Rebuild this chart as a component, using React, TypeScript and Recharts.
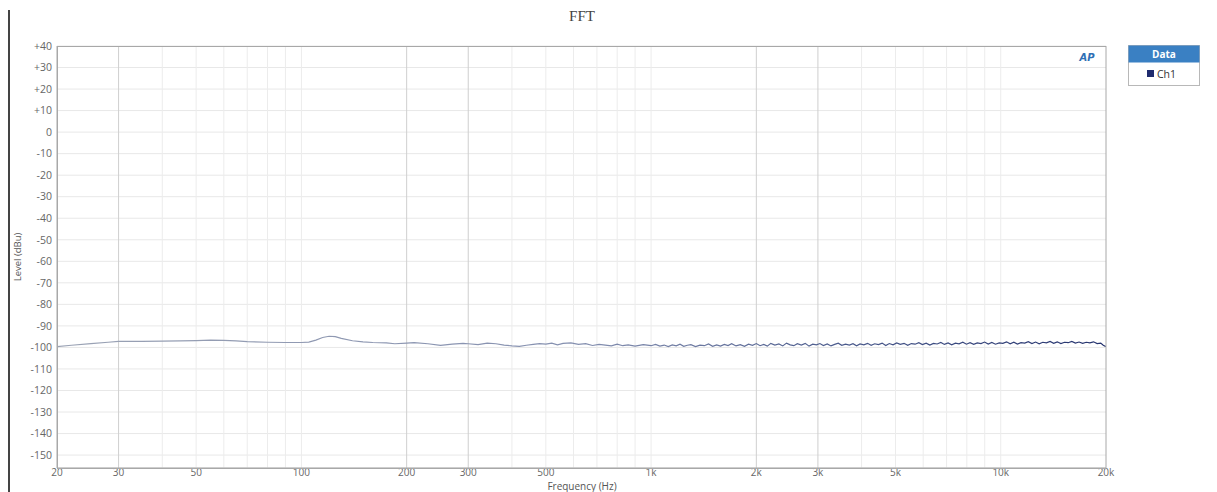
import React from "react";
import {
  LineChart,
  Line,
  XAxis,
  YAxis,
  CartesianGrid,
  ReferenceLine,
} from "recharts";

// frequency (Hz) and level (dBu) of the Ch1 FFT trace
const lowFreqs = [
  20, 22, 25, 28, 30, 35, 40, 45, 50, 55, 60, 65, 70, 80, 90, 100, 105, 110,
  115, 120, 125, 130, 140, 150, 160, 175, 185, 200, 210, 230, 250, 270, 290,
  300, 320, 340, 360, 380, 400, 420, 440, 460, 480, 500, 520, 540, 560, 590,
  620, 650, 680, 710, 740, 770, 800, 830, 860, 900, 950, 1000,
];
const lowLevels = [
  -99.6, -99.0, -98.2, -97.6, -97.2, -97.2, -97.1, -97.0, -96.8, -96.6, -96.7,
  -97.0, -97.3, -97.6, -97.7, -97.7, -97.5, -96.6, -95.4, -94.8, -95.0, -95.8,
  -96.9, -97.4, -97.7, -97.9, -98.3, -98.0, -97.8, -98.3, -99.0, -98.5, -98.1,
  -98.3, -98.7, -98.0, -98.3, -98.9, -99.3, -99.5, -99.0, -98.6, -98.2, -98.5,
  -98.0, -98.8, -98.1, -97.9, -98.6, -98.2, -99.1, -98.6, -98.9, -99.3, -98.5,
  -99.2, -98.8, -99.4, -98.7, -99.2,
];

const highFreqs = [
  1030, 1060, 1090, 1120, 1150, 1180, 1210, 1240, 1270, 1300, 1340, 1380, 1420,
  1460, 1500, 1540, 1580, 1620, 1660, 1700, 1750, 1800, 1850, 1900, 1950, 2000,
  2050, 2100, 2150, 2200, 2260, 2320, 2380, 2440, 2500, 2560, 2620, 2690, 2760,
  2830, 2900, 2970, 3040, 3110, 3190, 3270, 3350, 3430, 3510, 3600, 3690, 3780,
  3870, 3960, 4060, 4160, 4260, 4360, 4470, 4580, 4690, 4800, 4920, 5040, 5160,
  5290, 5420, 5550, 5690, 5830, 5970, 6120, 6270, 6420, 6580, 6740, 6900, 7070,
  7240, 7420, 7600, 7790, 7980, 8170, 8370, 8570, 8780, 8990, 9210, 9430, 9660,
  9900, 10140, 10390, 10640, 10900, 11160, 11430, 11710, 11990, 12280, 12580,
  12880, 13190, 13510, 13840, 14170, 14510, 14860, 15220, 15590, 15970, 16350,
  16750, 17150, 17560, 17990, 18420, 18870, 19320, 19600, 19800, 20000,
];
const highLevels = [
  -98.6, -99.4, -98.9, -99.6, -98.8, -99.3, -98.5, -99.5, -99.0, -98.7, -99.6,
  -98.9, -99.2, -98.4, -99.5, -98.8, -99.4, -98.6, -99.1, -98.3, -99.3, -98.7,
  -99.5, -98.5, -99.0, -98.2, -99.2, -98.6, -99.4, -98.1, -98.9, -98.4, -99.3,
  -98.0, -98.8, -99.2, -98.3, -98.9, -98.1, -99.4, -98.5, -98.8, -98.2, -99.1,
  -98.4, -99.3, -98.6, -98.0, -99.0, -98.5, -98.9, -98.3, -99.2, -98.4, -98.8,
  -98.1, -99.0, -98.3, -98.7, -98.0, -99.1, -98.2, -98.8, -97.9, -98.6, -98.1,
  -99.0, -98.2, -98.5, -97.8, -98.7, -98.0, -98.9, -98.1, -98.4, -97.7, -98.6,
  -97.9, -98.8, -98.0, -98.3, -97.6, -98.5, -97.8, -98.6, -97.9, -98.2, -97.5,
  -98.4, -97.7, -98.5, -97.9, -98.1, -97.4, -98.3, -97.6, -98.4, -97.8, -98.0,
  -97.3, -98.2, -97.5, -98.3, -97.6, -97.9, -97.2, -98.1, -97.4, -98.2, -97.6,
  -97.8, -97.2, -98.0, -97.5, -98.1, -97.6, -97.9, -97.4, -98.2, -98.0, -98.9,
  -99.3, -99.6,
];

const xTicks = [20, 30, 50, 100, 200, 300, 500, 1000, 2000, 3000, 5000, 10000, 20000];
const yTicks = [40, 30, 20, 10, 0, -10, -20, -30, -40, -50, -60, -70, -80, -90, -100, -110, -120, -130, -140, -150];

// vertical grid: light minor lines and a few darker ones
const minorGrid = [
  40, 50, 60, 70, 80, 90, 100, 400, 500, 600, 700, 800, 900, 1000, 4000, 5000,
  6000, 7000, 8000, 9000, 10000,
];
const majorGrid = [30, 200, 300, 2000, 3000];

const data = [
  ...lowFreqs.map((f, i) => ({ freq: f, ch1: lowLevels[i] })),
  ...highFreqs.map((f, i) => ({ freq: f, ch1: highLevels[i] })),
];

const fmtX = (v: number) => (v >= 1000 ? `${v / 1000}k` : `${v}`);
const fmtY = (v: number) => (v > 0 ? `+${v}` : `${v}`);

const tickStyle = { fontSize: 10.5, fill: "#666", fontFamily: "'Open Sans', sans-serif" };
const xTickStyle = { fontSize: 10, fill: "#666", fontFamily: "'Open Sans', sans-serif" };

const App = () => {
  return (
    <div style={{ position: "absolute", left: 0, top: 0, width: 1217, height: 492, background: "#fff", overflow: "hidden" }}>
      <LineChart
        width={1217}
        height={492}
        data={data}
        margin={{ top: 46, right: 111, left: 15, bottom: 0 }}
      >
        <defs>
          <linearGradient id="traceGrad" x1="0" y1="0" x2="1" y2="0">
            <stop offset="0%" stopColor="#9aa2b4" />
            <stop offset="50%" stopColor="#8590b0" />
            <stop offset="75%" stopColor="#4a5a8c" />
            <stop offset="100%" stopColor="#25336e" />
          </linearGradient>
        </defs>
        <CartesianGrid vertical={false} stroke="#e8e8e8" strokeWidth={1} />
        {minorGrid.map((f) => (
          <ReferenceLine key={`mi-${f}`} x={f} stroke="#ececec" strokeWidth={1} />
        ))}
        {majorGrid.map((f) => (
          <ReferenceLine key={`ma-${f}`} x={f} stroke="#cfcfcf" strokeWidth={1} />
        ))}
        <XAxis
          dataKey="freq"
          type="number"
          scale="log"
          domain={[20, 20000]}
          ticks={xTicks}
          tickFormatter={fmtX}
          allowDataOverflow
          height={24}
          tickLine={false}
          tickSize={0}
          tickMargin={1}
          axisLine={{ stroke: "#a8a8a8" }}
          tick={xTickStyle}
          interval={0}
        />
        <YAxis
          type="number"
          domain={[-156, 40]}
          ticks={yTicks}
          tickFormatter={fmtY}
          allowDataOverflow
          width={42}
          tickLine={false}
          tickSize={2}
          tickMargin={3}
          axisLine={{ stroke: "#a8a8a8" }}
          tick={tickStyle}
          interval={0}
        />
        <Line
          type="linear"
          dataKey="ch1"
          stroke="url(#traceGrad)"
          strokeWidth={1.2}
          dot={false}
          isAnimationActive={false}
        />
      </LineChart>

      <svg
        width={1217}
        height={492}
        style={{ position: "absolute", left: 0, top: 0, pointerEvents: "none" }}
      >
        {/* page frame and plot border */}
        <line x1={9} y1={10} x2={9} y2={492} stroke="#444" strokeWidth={2} />
        <rect x={57.5} y={46.5} width={1048.5} height={422} fill="none" stroke="#a8a8a8" />
        <text x={582} y={21} textAnchor="middle" fontFamily="'Liberation Serif', serif" fontSize={15} fill="#444">
          FFT
        </text>
        <text
          x={0}
          y={0}
          transform="translate(21 257) rotate(-90)"
          textAnchor="middle"
          fontFamily="'Open Sans', sans-serif"
          fontSize={9.5}
          fill="#555"
        >
          Level (dBu)
        </text>
        <text x={582} y={489.5} textAnchor="middle" fontFamily="'Open Sans', sans-serif" fontSize={10} fill="#555">
          Frequency (Hz)
        </text>
        {/* AP logo */}
        <text x={1087} y={61} textAnchor="middle" fontFamily="'DejaVu Sans', sans-serif" fontStyle="italic" fontWeight="bold" fontSize={10} fill="#2f6fb5">
          AP
        </text>
        {/* legend */}
        <rect x={1128.5} y={45.5} width={71} height={40} fill="#fff" stroke="#b8b8b8" />
        <rect x={1128.5} y={45.5} width={71} height={17} fill="#3a80c3" />
        <text x={1164} y={58} textAnchor="middle" fontFamily="'Open Sans', sans-serif" fontWeight="bold" fontSize={10} fill="#fff">
          Data
        </text>
        <rect x={1147} y={70} width={7} height={7} fill="#1f2b6e" />
        <text x={1157} y={77.5} fontFamily="'Open Sans', sans-serif" fontSize={10.5} fill="#333">
          Ch1
        </text>
      </svg>
    </div>
  );
};

export default App;
